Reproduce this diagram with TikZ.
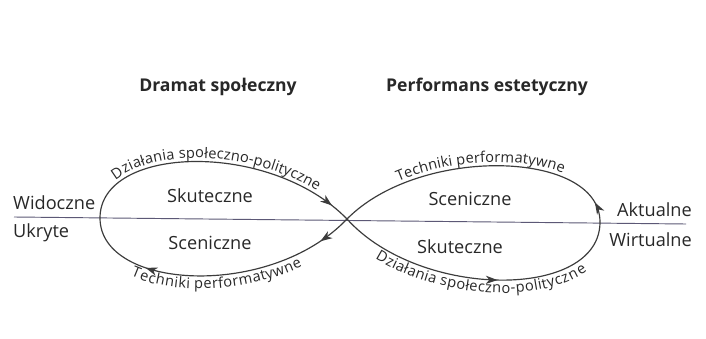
\documentclass[tikz,border=0pt]{standalone}
\usepackage{fontspec}
\setmainfont{Open Sans}
\usetikzlibrary{arrows.meta,decorations.markings,decorations.text}

\definecolor{linegray}{RGB}{60,60,60}
\definecolor{axisline}{RGB}{92,88,118}
\definecolor{textgray}{RGB}{40,40,40}

\tikzset{
  loopline/.style={draw=linegray,line width=1pt},
  fwdarrow/.style={postaction={decorate,decoration={markings,
      mark=at position #1 with {\arrow{Stealth[length=10pt,width=7pt,inset=3pt]}}}}},
  backarrow/.style={postaction={decorate,decoration={markings,
      mark=at position #1 with {\arrowreversed{Stealth[length=10pt,width=7pt,inset=3pt]}}}}},
  lbl/.style={text=textgray,font=\fontsize{15.5}{18}\selectfont,inner sep=0pt},
  title/.style={text=textgray,font=\bfseries\fontsize{15}{18}\selectfont,inner sep=0pt}
}

\begin{document}
\begin{tikzpicture}[x=0.03cm,y=-0.03cm]
  \useasboundingbox[fill=white] (0,0) rectangle (706,338);

  % points of the figure eight
  \coordinate (lw) at (100,218);
  \coordinate (cross) at (347,219);
  \coordinate (re) at (600,222);
  \coordinate (axl) at (14,217);
  \coordinate (axr) at (686,224);

  % the axis
  \draw[axisline,line width=0.8pt] (axl) -- (axr);

  % titles
  \node[title] (dramat) at (218,87) {Dramat społeczny};
  \node[title] (perf) at (487,87) {Performans estetyczny};

  % side labels
  \node[lbl,anchor=west] (widoczne) at (13,203) {Widoczne};
  \node[lbl,anchor=west] (ukryte) at (13,233) {Ukryte};
  \node[lbl,anchor=east] (aktualne) at (692,210) {Aktualne};
  \node[lbl,anchor=east] (wirtualne) at (692,240) {Wirtualne};

  % inner labels
  \node[lbl] (skutL) at (210,196) {Skuteczne};
  \node[lbl] (scenL) at (210,243) {Sceniczne};
  \node[lbl] (scenR) at (470,199) {Sceniczne};
  \node[lbl] (skutR) at (460,247) {Skuteczne};

  % left loop
  \draw[loopline,fwdarrow=0.93] (lw) .. controls (100,145) and (270,140) .. (cross);
  \draw[loopline,backarrow=0.25,backarrow=0.88] (lw) .. controls (100,290) and (270,300) .. (cross);
  % right loop
  \draw[loopline,backarrow=0.93] (cross) .. controls (420,145) and (600,150) .. (re);
  \draw[loopline,fwdarrow=0.56] (cross) .. controls (420,300) and (600,300) .. (re);

  % texts along the loops
  \path[decorate,decoration={text along path,text align=center,raise=3pt,
      text={|\color{textgray}\fontsize{12.5}{15}\selectfont|Działania społeczno-polityczne}}]
    (lw) .. controls (100,145) and (270,140) .. (cross);
  \path[decorate,decoration={text along path,text align=center,raise=-11pt,
      text={|\color{textgray}\fontsize{12.5}{15}\selectfont|Techniki performatywne}}]
    (lw) .. controls (100,290) and (270,300) .. (cross);
  \path[decorate,decoration={text along path,text align=center,raise=3pt,
      text={|\color{textgray}\fontsize{12.5}{15}\selectfont|Techniki performatywne}}]
    (cross) .. controls (420,145) and (600,150) .. (re);
  \path[decorate,decoration={text along path,text align=center,raise=-11pt,
      text={|\color{textgray}\fontsize{12.5}{15}\selectfont|Działania społeczno-polityczne}}]
    (cross) .. controls (420,300) and (600,300) .. (re);
\end{tikzpicture}
\end{document}
